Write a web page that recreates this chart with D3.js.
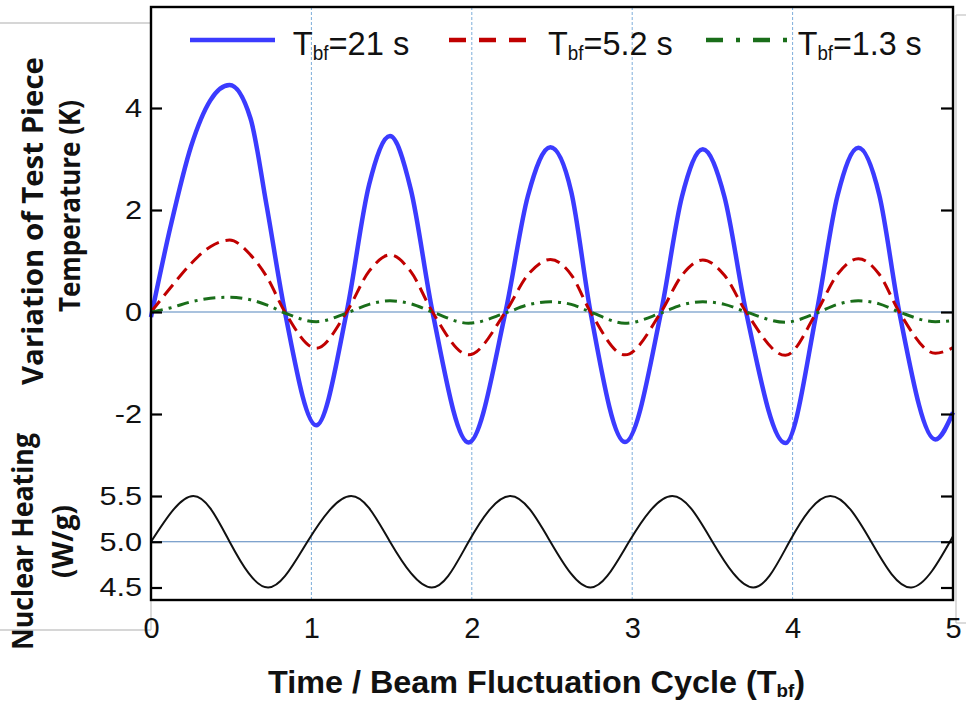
<!DOCTYPE html>
<html>
<head>
<meta charset="utf-8">
<script src="https://cdn.jsdelivr.net/npm/d3@7"></script>
<style>
  body { margin: 0; background: #fff; }
  svg text { font-family: "Liberation Sans", Arial, sans-serif; fill: #111; }
  svg text.ytitle { font-family: "Open Sans", sans-serif; font-weight: 700; }
</style>
</head>
<body>
<svg id="chart" width="966" height="706"></svg>
<script>
// axis ticks
const cycles     = [0, 1, 2, 3, 4, 5];
const gridCycles = [1, 2, 3, 4];
const tempTicks  = [-2, 0, 2, 4];
const heatTicks  = [4.5, 5.0, 5.5];

// test piece temperature variation (K)
const time   = [0, 0.12, 0.25, 0.37, 0.49, 0.62, 0.72, 0.835, 1.03, 1.22, 1.36, 1.49, 1.62, 1.755,
                1.98, 2.21, 2.35, 2.49, 2.62, 2.74, 2.955, 3.18, 3.31, 3.44, 3.575, 3.71,
                3.955, 4.15, 4.28, 4.41, 4.54, 4.665, 4.89, 5.0];
const temp21 = [-0.1, 1.65, 3.25, 4.15, 4.45, 3.8, 2.1, 0.0, -2.22, 0.0, 2.5, 3.45, 2.4, 0.0,
                -2.56, 0.0, 2.28, 3.23, 2.36, 0.0, -2.55, 0.0, 2.26, 3.19, 2.26, 0.0,
                -2.57, 0.0, 2.28, 3.22, 2.3, 0.0, -2.5, -1.97];
const temp52 = [0, 0.47, 0.95, 1.28, 1.41, 1.12, 0.7, 0.0, -0.71, 0.0, 0.8, 1.12, 0.79, 0.0,
                -0.84, 0.0, 0.73, 1.03, 0.73, 0.0, -0.84, 0.0, 0.72, 1.02, 0.72, 0.0,
                -0.85, 0.0, 0.74, 1.045, 0.74, 0.0, -0.81, -0.7];
const temp13 = [0, 0.08, 0.2, 0.27, 0.29, 0.24, 0.14, -0.02, -0.19, -0.02, 0.15, 0.22, 0.16, 0.0,
                -0.22, -0.02, 0.14, 0.2, 0.15, 0.0, -0.22, -0.02, 0.14, 0.2, 0.15, 0.0,
                -0.2, -0.02, 0.15, 0.22, 0.16, 0.0, -0.19, -0.17];

// nuclear heating (W/g)
const heatTime = [0, 0.264, 0.49, 0.73, 0.975, 1.248, 1.49, 1.75, 1.98, 2.24, 2.49, 2.74,
                  2.98, 3.25, 3.5, 3.755, 3.98, 4.235, 4.49, 4.74, 5.0];
const heating  = [5.0, 5.5, 5.0, 4.5, 5.0, 5.5, 5.0, 4.5, 5.0, 5.5, 5.0, 4.5,
                  5.0, 5.5, 5.0, 4.5, 5.0, 5.5, 5.0, 4.5, 5.06];

const periods = ['21', '5.2', '1.3'];

let svg = d3.select('#chart');

let plotL = 151, plotR = 953, plotT = 7, plotB = 600;

let x  = d3.scaleLinear().domain([0, 5]).range([plotL, plotR]),
    yT = d3.scaleLinear().domain([-2, 4]).range([414, 108]),
    yH = d3.scaleLinear().domain([4.5, 5.5]).range([587.5, 496]);

// faint page frame bits from the original slide
[[0, 23, plotL, 23], [0, 630, plotL, 630], [plotL, plotB, plotL, 630],
 [956, 15, 966, 15], [956, 15, 956, 623], [956, 623, 966, 623]].forEach(s => {
  svg.append('line')
    .attr('x1', s[0]).attr('y1', s[1]).attr('x2', s[2]).attr('y2', s[3])
    .attr('stroke', '#c8c8c8').attr('stroke-width', 1.3);
});

// cycle markers
svg.selectAll('line.grid')
  .data(gridCycles)
  .enter().append('line')
  .classed('grid', true)
  .attr('x1', d => x(d)).attr('x2', d => x(d))
  .attr('y1', plotT).attr('y2', plotB)
  .attr('stroke', '#7eaedb')
  .attr('stroke-width', 1)
  .attr('stroke-dasharray', '3,2');

// reference lines
[yT(0), yH(5)].forEach(yy => {
  svg.append('line')
    .attr('x1', plotL).attr('x2', plotR)
    .attr('y1', yy).attr('y2', yy)
    .attr('stroke', '#5585bd')
    .attr('stroke-width', 1.2);
});

let series = [
  { values: temp21, color: '#3b3bff', width: 4.5, dash: null,         legDash: null },
  { values: temp52, color: '#c00000', width: 3,   dash: '14,7',       legDash: '17,13' },
  { values: temp13, color: '#1a6e1a', width: 3,   dash: '12,6,3,6',   legDash: '17,13,4,13' }
];

let tempLine = d3.line()
  .x((d, i) => x(time[i]))
  .y(d => yT(d))
  .curve(d3.curveMonotoneX);

series.forEach(s => {
  svg.append('path')
    .attr('d', tempLine(s.values))
    .attr('fill', 'none')
    .attr('stroke', s.color)
    .attr('stroke-width', s.width)
    .attr('stroke-dasharray', s.dash)
    .attr('stroke-linejoin', 'round');
});

let heatLine = d3.line()
  .x((d, i) => x(heatTime[i]))
  .y(d => yH(d))
  .curve(d3.curveNatural);

svg.append('path')
  .attr('d', heatLine(heating))
  .attr('fill', 'none')
  .attr('stroke', '#111')
  .attr('stroke-width', 2);

// frame
svg.append('rect')
  .attr('x', plotL).attr('y', plotT)
  .attr('width', plotR - plotL).attr('height', plotB - plotT)
  .attr('fill', 'none')
  .attr('stroke', '#000')
  .attr('stroke-width', 2.4);

function styleAxis(g, size) {
  g.select('.domain').remove();
  g.selectAll('.tick line').attr('stroke', '#000').attr('stroke-width', 2.2);
  g.selectAll('.tick text')
    .style('font-family', '"Liberation Sans", Arial, sans-serif')
    .style('font-size', size + 'px')
    .attr('fill', '#111');
}

// left axes (labels are a bit wide in the original)
[[yT, tempTicks, d => String(d)], [yH, heatTicks, d3.format('.1f')]].forEach(a => {
  let g = svg.append('g')
    .attr('transform', `translate(${plotL},0)`)
    .call(d3.axisLeft(a[0]).tickValues(a[1]).tickSizeInner(-11).tickSizeOuter(0)
      .tickPadding(0).tickFormat(a[2]));
  styleAxis(g, 26);
  g.selectAll('.tick text')
    .attr('x', -9 / 1.18)
    .attr('transform', 'scale(1.18,1)');
});

// right axes, ticks only
[[yT, tempTicks], [yH, heatTicks]].forEach(a => {
  let g = svg.append('g')
    .attr('transform', `translate(${plotR},0)`)
    .call(d3.axisRight(a[0]).tickValues(a[1]).tickSizeInner(-12).tickSizeOuter(0)
      .tickFormat(''));
  styleAxis(g, 26);
});

let xg = svg.append('g')
  .attr('transform', `translate(0,${plotB})`)
  .call(d3.axisBottom(x).tickValues(cycles).tickSize(0).tickPadding(17)
    .tickFormat(d3.format('d')));
styleAxis(xg, 29);

// text with a "bf" subscript
function subText(xx, yy, size, pre, post, len, bold) {
  let t = svg.append('text')
    .attr('x', xx).attr('y', yy)
    .attr('font-size', size)
    .attr('font-weight', bold ? 700 : 400)
    .attr('textLength', len)
    .attr('lengthAdjust', 'spacingAndGlyphs');
  t.append('tspan').text(pre + 'T');
  t.append('tspan').attr('font-size', size * 0.58).attr('dy', size * 0.14).text('bf');
  t.append('tspan').attr('dy', -size * 0.14).text(post);
  return t;
}

// legend
let legX = [190, 449, 706],
    legTextX = [292.7, 548, 797.7],
    legLen = [116.6, 124.7, 124];

series.forEach((s, i) => {
  svg.append('line')
    .attr('x1', legX[i]).attr('x2', legX[i] + (i == 0 ? 85 : 84))
    .attr('y1', 40).attr('y2', 40)
    .attr('stroke', s.color)
    .attr('stroke-width', 4.5)
    .attr('stroke-dasharray', s.legDash);
  subText(legTextX[i], 55, 34, '', '=' + periods[i] + ' s', legLen[i], false);
});

// x title
subText(268, 693, 31, 'Time / Beam Fluctuation Cycle (', ')', 537, true);

// y titles
function vtext(txt, cx, cy, size, len) {
  svg.append('text')
    .classed('ytitle', true)
    .attr('transform', `translate(${cx},${cy}) rotate(-90)`)
    .attr('text-anchor', 'middle')
    .attr('font-size', size)
    .attr('textLength', len)
    .attr('lengthAdjust', 'spacingAndGlyphs')
    .text(txt);
}

vtext('Variation of Test Piece', 43, 221, 29, 328);
vtext('Temperature (K)', 80, 206, 28, 212);
vtext('Nuclear Heating', 33, 541.5, 28, 217);
vtext('(W/g)', 73, 541.5, 28, 73);
</script>
</body>
</html>
